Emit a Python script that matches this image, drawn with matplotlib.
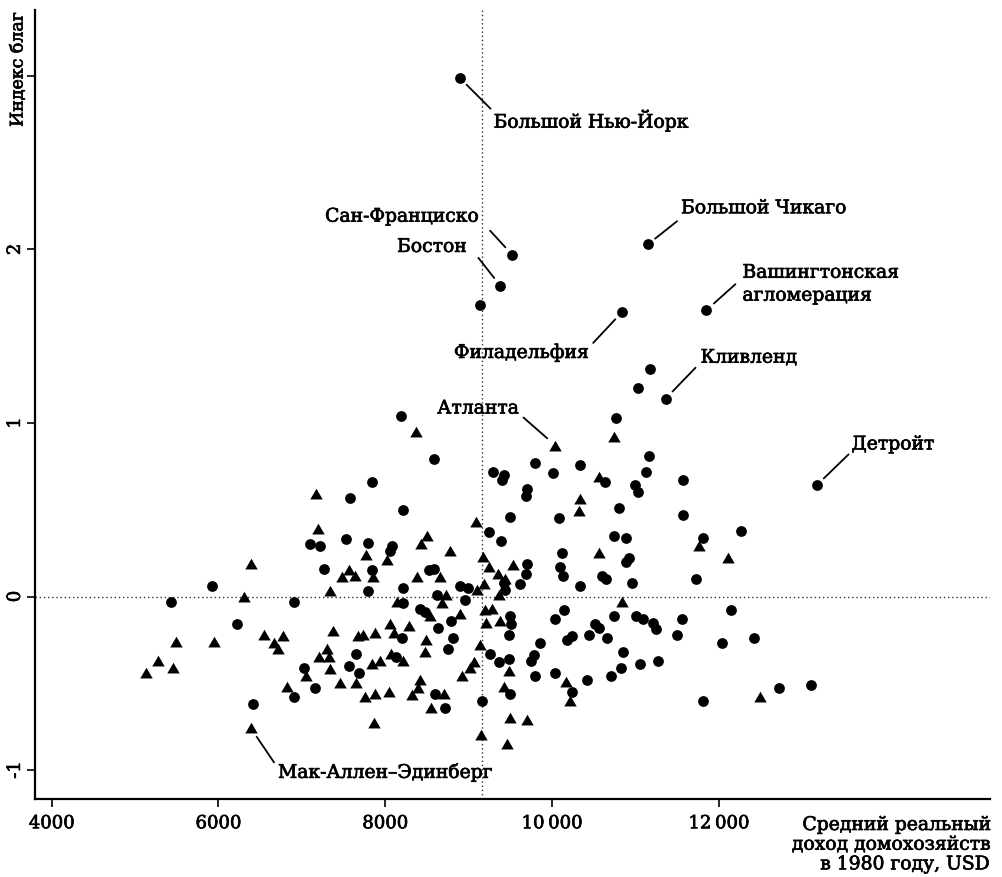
import matplotlib
matplotlib.use("Agg")
import matplotlib.pyplot as plt
import matplotlib.patheffects as pe

plt.rcParams["font.family"] = ["DejaVu Serif"]

# метро-ареалы с индексом благ выше среднего по региону (круги)
circle_income = [
    8890, 9520, 9380, 9130, 11150, 11850, 10840, 11170, 11030, 11360,
    10760, 8190, 8580, 13170, 11160, 11130, 11570, 11570, 9800, 10340,
    10010, 10630, 10990, 11030, 9700, 9690, 10800, 10080, 9500, 9290,
    9420, 9400, 9240, 9390, 10740, 10880, 8080, 8060, 8210, 7840,
    7580, 7530, 7100, 7220, 7790, 7270, 7840, 5920, 5430, 6900,
    7790, 6220, 7650, 7570, 7690, 7030, 7160, 6910, 6410, 8200,
    8130, 8210, 8410, 8480, 8960, 8790, 8630, 8810, 8750, 8600,
    8710, 9160, 9250, 9500, 9510, 9480, 9360, 9480, 9500, 8890,
    8990, 8520, 8580, 8210, 8620, 9420, 9430, 9620, 9700, 9690,
    10040, 10140, 10740, 11000, 11090, 10520, 10560, 10440, 10660, 10240,
    10180, 9860, 9780, 9750, 10850, 10820, 10700, 11050, 10040, 9790,
    10420, 10240, 10120, 10090, 10130, 10600, 10650, 10330, 10920, 10890,
    10960, 12270, 11810, 11720, 12150, 11210, 11240, 11560, 11500, 12040,
    12420, 11270, 11810, 12720, 13100,
]
circle_index = [
    2.99, 1.97, 1.79, 1.68, 2.03, 1.65, 1.64, 1.31, 1.20, 1.14,
    1.03, 1.04, 0.79, 0.64, 0.81, 0.72, 0.67, 0.47, 0.77, 0.76,
    0.71, 0.66, 0.64, 0.60, 0.62, 0.58, 0.51, 0.45, 0.46, 0.72,
    0.70, 0.67, 0.37, 0.32, 0.35, 0.34, 0.29, 0.26, 0.50, 0.66,
    0.57, 0.33, 0.30, 0.29, 0.31, 0.16, 0.15, 0.06, -0.03, -0.03,
    0.03, -0.16, -0.33, -0.40, -0.44, -0.41, -0.53, -0.58, -0.62, -0.24,
    -0.35, -0.04, -0.07, -0.09, -0.02, -0.14, -0.18, -0.24, -0.30, -0.56,
    -0.64, -0.60, -0.33, -0.11, -0.16, -0.22, -0.38, -0.36, -0.56, 0.06,
    0.05, 0.15, 0.16, 0.05, 0.01, 0.08, 0.04, 0.07, 0.19, 0.13,
    -0.13, -0.08, -0.11, -0.11, -0.13, -0.16, -0.18, -0.22, -0.24, -0.23,
    -0.25, -0.27, -0.34, -0.37, -0.32, -0.41, -0.46, -0.39, -0.44, -0.46,
    -0.48, -0.55, 0.25, 0.17, 0.12, 0.12, 0.10, 0.06, 0.22, 0.20,
    0.08, 0.38, 0.34, 0.10, -0.08, -0.15, -0.19, -0.13, -0.22, -0.27,
    -0.24, -0.37, -0.60, -0.53, -0.51,
]

# южные метро-ареалы (треугольники)
triangle_income = [
    10040, 10740, 8370, 10560, 10340, 10320, 9090, 11760, 12110, 7170,
    7190, 7770, 6390, 7560, 7480, 7640, 7850, 6310, 7340, 5490,
    5950, 5280, 5460, 5130, 6540, 6770, 6670, 6710, 7370, 7300,
    7210, 7320, 7670, 7730, 7880, 7840, 7050, 7340, 6820, 7460,
    7650, 7760, 7880, 7860, 6390, 7940, 8040, 8060, 8100, 8070,
    8210, 8290, 8140, 8540, 8680, 8900, 8490, 8470, 8420, 8320,
    8390, 8700, 8550, 9020, 9060, 8920, 9150, 9140, 9200, 9210,
    9280, 9380, 9480, 9420, 9490, 9460, 9700, 9180, 9100, 9360,
    9440, 9350, 9530, 9240, 9170, 8380, 8660, 8730, 8500, 8430,
    8780, 8020, 10840, 10560, 10170, 10220, 12490,
]
triangle_index = [
    0.87, 0.92, 0.95, 0.69, 0.56, 0.49, 0.43, 0.29, 0.22, 0.59,
    0.39, 0.24, 0.19, 0.15, 0.11, 0.12, 0.11, 0.00, 0.03, -0.26,
    -0.26, -0.37, -0.41, -0.44, -0.22, -0.23, -0.27, -0.30, -0.20, -0.30,
    -0.35, -0.35, -0.23, -0.22, -0.21, -0.39, -0.46, -0.42, -0.52, -0.50,
    -0.50, -0.58, -0.56, -0.73, -0.76, -0.37, -0.55, -0.16, -0.21, -0.33,
    -0.37, -0.17, -0.03, -0.11, -0.04, -0.10, -0.25, -0.32, -0.48, -0.57,
    -0.53, -0.56, -0.64, -0.41, -0.38, -0.46, -0.80, -0.28, -0.08, -0.15,
    -0.07, -0.14, -0.43, -0.52, -0.70, -0.85, -0.71, 0.07, 0.04, 0.01,
    0.10, 0.13, 0.18, 0.17, 0.23, 0.11, 0.11, 0.01, 0.35, 0.30,
    0.26, 0.21, -0.03, 0.25, -0.49, -0.60, -0.58,
]

mean_income = 9160

# подписи: (название, доход, индекс, отступ линии от точки, дальний конец, текст, выравнивание)
labels = [
    ("Большой Нью-Йорк", 8890, 2.99, 10, (31, -31), (34, -43), "left"),
    ("Сан-Франциско", 9520, 1.97, 10, (-22, 24), (-34, 38), "right"),
    ("Бостон", 9380, 1.79, 10, (-22, 28), (-34, 39), "right"),
    ("Большой Чикаго", 11150, 2.03, 9, (29, 23), (33, 36), "left"),
    ("Вашингтонская\nагломерация", 11850, 1.65, 10, (29, 26), (36, 26), "left"),
    ("Филадельфия", 10840, 1.64, 10, (-29, -31), (-34, -41), "right"),
    ("Кливленд", 11360, 1.14, 10, (30, 31), (35, 41), "left"),
    ("Детройт", 13170, 0.64, 10, (32, 31), (35, 41), "left"),
    ("Атланта", 10040, 0.87, 11, (-32, 28), (-37, 37), "right"),
    ("Мак-Аллен–Эдинберг", 6390, -0.76, 10, (23, -34), (27, -44), "left"),
]

# равносторонний треугольник для маркера
triangle = [(-1, -0.8), (1, -0.8), (0, 0.93)]
heavy = [pe.withStroke(linewidth=0.5, foreground="black")]

fig = plt.figure(figsize=(10.02, 8.77), dpi=100)
ax = fig.add_axes([35 / 1002, 1 - 799 / 877, 955 / 1002, 789 / 877])

ax.axhline(0, color="#333333", lw=1, ls=(0, (1, 2)), zorder=1)
ax.axvline(mean_income, color="#333333", lw=1, ls=(0, (1, 2)), zorder=1)

ax.scatter(circle_income, circle_index, marker="o", s=60, color="black",
           linewidths=0, zorder=3)
ax.scatter(triangle_income, triangle_index, marker=triangle, s=80,
           color="black", linewidths=0, zorder=3)

px_to_pt = 72 / fig.dpi
for name, x, y, gap, far, text_off, ha in labels:
    # выносная линия: от дальнего конца к точке, не доходя до неё
    ax.annotate("", xy=(x, y), xytext=far, textcoords="offset pixels",
                arrowprops=dict(arrowstyle="-", lw=1.3, color="black",
                                shrinkA=0, shrinkB=gap * px_to_pt))
    ax.annotate(name, xy=(x, y), xytext=text_off, textcoords="offset pixels",
                ha=ha, va="center", fontsize=13.5, linespacing=1.35,
                multialignment="left", path_effects=heavy)

ax.set_xlim(3800, 15250)
ax.set_ylim(-1.167, 3.38)

ax.set_xticks([4000, 6000, 8000, 10000, 12000])
ax.set_xticklabels(["4000", "6000", "8000", "10\u2009000", "12\u2009000"])
ax.set_yticks([-1, 0, 1, 2, 3])
ax.set_yticklabels(["-1", "0", "1", "2", ""], rotation=90, va="center")

ax.tick_params(axis="both", direction="out", length=6, width=1.2,
               labelsize=13, colors="black")
ax.tick_params(axis="y", pad=2)
ax.tick_params(axis="x", pad=5)
for lbl in ax.get_xticklabels() + ax.get_yticklabels():
    lbl.set_path_effects(heavy)

for side in ("top", "right"):
    ax.spines[side].set_visible(False)
for side in ("left", "bottom"):
    ax.spines[side].set_linewidth(1.6)

fig.text(18 / 1002, 1 - 12 / 877, "Индекс благ", rotation=90,
         ha="center", va="top", fontsize=12.5, path_effects=heavy)
fig.text(990 / 1002, 1 - 816 / 877,
         "Средний реальный\nдоход домохозяйств\nв 1980 году, USD",
         ha="right", va="top", fontsize=13.5, multialignment="right",
         linespacing=1.12, path_effects=heavy)

fig.savefig("out.png", dpi=100)
